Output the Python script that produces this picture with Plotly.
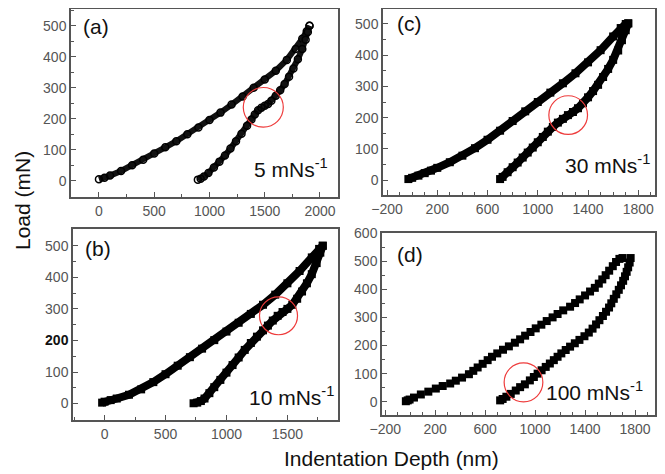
import plotly.graph_objects as go

# ---------------- data (depth nm, load mN) ----------------
# (a) 5 mN/s
a_load_depth = [0, 50, 100, 200, 300, 400, 500, 600, 700, 800, 900, 1000, 1100, 1200, 1300,
                1400, 1500, 1600, 1700, 1780, 1840, 1880, 1905]
a_load_force = [5, 10, 17, 32, 50, 68, 88, 108, 128, 150, 172, 196, 220, 246, 272,
                300, 327, 355, 390, 425, 458, 482, 500]
a_unl_depth = [1905, 1890, 1870, 1840, 1800, 1760, 1720, 1680, 1640, 1600, 1560, 1530, 1500, 1470,
               1440, 1410, 1380, 1340, 1290, 1240, 1190, 1140, 1090, 1040, 990, 950, 920, 895]
a_unl_force = [500, 480, 455, 425, 392, 362, 336, 312, 292, 274, 258, 248, 242, 236,
               228, 214, 198, 178, 152, 128, 104, 82, 62, 43, 25, 14, 7, 4]

# (c) 30 mN/s
c_load_depth = [-30, 0, 50, 100, 150, 200, 300, 400, 500, 600, 700, 800, 900, 1000, 1100, 1200,
                1300, 1400, 1500, 1600, 1660, 1700, 1720]
c_load_force = [3, 7, 14, 22, 30, 39, 57, 78, 102, 129, 158, 189, 220, 250, 280, 310,
                342, 377, 416, 460, 487, 500, 502]
c_unl_depth = [1720, 1700, 1670, 1640, 1600, 1560, 1520, 1480, 1440, 1400, 1360, 1320, 1280, 1240,
               1200, 1160, 1120, 1080, 1040, 1000, 960, 920, 880, 840, 800, 760, 720, 700]
c_unl_force = [502, 480, 448, 415, 385, 356, 330, 305, 285, 265, 246, 230, 218, 208,
               196, 184, 170, 155, 138, 121, 104, 88, 72, 56, 41, 25, 10, 3]

# (b) 10 mN/s
b_load_depth = [-20, 0, 50, 100, 200, 300, 400, 500, 600, 700, 800, 900, 1000, 1100, 1200,
                1300, 1400, 1500, 1600, 1700, 1760, 1790]
b_load_force = [3, 6, 11, 16, 28, 45, 68, 93, 120, 147, 174, 201, 228, 256, 284,
                313, 345, 381, 420, 463, 490, 500]
b_unl_depth = [1790, 1770, 1740, 1700, 1660, 1620, 1580, 1540, 1500, 1460, 1420, 1380, 1340, 1300,
               1250, 1200, 1150, 1100, 1050, 1000, 950, 900, 860, 820, 790, 760, 730]
b_unl_force = [500, 478, 445, 410, 381, 355, 332, 313, 300, 290, 278, 263, 247, 232,
               212, 192, 170, 146, 122, 98, 75, 52, 33, 16, 8, 3, 1]

# (d) 100 mN/s
d_load_depth = [-35, -20, -5, 30, 85, 145, 205, 260, 320, 365, 415, 470, 505, 540, 580, 620, 655,
                697, 743, 790, 838, 880, 920, 963, 1005, 1050, 1093, 1140, 1180, 1225, 1280, 1320,
                1357, 1400, 1440, 1478, 1510, 1538, 1565, 1593, 1622, 1648, 1675, 1700]
d_load_force = [2, 5, 8, 15, 26, 36, 47, 56, 65, 75, 86, 98, 110, 122, 135, 148, 160,
                172, 185, 197, 210, 222, 235, 248, 261, 274, 287, 300, 312, 325, 338, 351,
                364, 378, 392, 405, 420, 435, 450, 466, 482, 497, 508, 511]
d_unl_depth = [1765, 1757, 1745, 1733, 1720, 1705, 1688, 1670, 1650, 1630, 1610, 1592, 1568, 1543,
               1515, 1488, 1460, 1430, 1395, 1355, 1318, 1280, 1245, 1210, 1180, 1150, 1118, 1085,
               1052, 1020, 990, 958, 918, 880, 845, 805, 770, 740, 720]
d_unl_force = [511, 495, 478, 462, 446, 430, 414, 398, 382, 366, 350, 335, 320, 305,
               290, 275, 260, 246, 233, 220, 208, 196, 184, 172, 160, 148, 136, 124,
               112, 100, 88, 76, 62, 52, 40, 28, 18, 10, 5]

# red circles marking the pop-in events: (centre depth, centre load, half-width, half-height)
circles = {
    "a": (1487, 237, 181, 64),
    "c": (1242, 208, 154, 62),
    "b": (1427, 278, 156, 60),
    "d": (907, 69, 155, 69),
}
rate_labels = {"a": "5 mNs<sup>-1</sup>", "c": "30 mNs<sup>-1</sup>",
               "b": "10 mNs<sup>-1</sup>", "d": "100 mNs<sup>-1</sup>"}

FONT = "Liberation Sans, Arial, sans-serif"
AX_COL = "#555555"
TICK_COL = "#555555"

fig = go.Figure()

ax = {"a": "", "c": "2", "b": "3", "d": "4"}

def add_curve(p, xs, ys, style):
    xa = "x" + ax[p]
    ya = "y" + ax[p]
    if style == "open":
        fig.add_trace(go.Scatter(x=xs, y=ys, xaxis=xa, yaxis=ya, mode="lines+markers",
                                 line=dict(color="#111111", width=6),
                                 marker=dict(symbol="circle-open", size=7, color="#000000",
                                             line=dict(width=1.5)),
                                 showlegend=False, hoverinfo="skip"))
    elif style == "band":
        fig.add_trace(go.Scatter(x=xs, y=ys, xaxis=xa, yaxis=ya, mode="lines+markers",
                                 line=dict(color="#000000", width=8),
                                 marker=dict(symbol="square", size=8, color="#000000"),
                                 showlegend=False, hoverinfo="skip"))
    else:
        fig.add_trace(go.Scatter(x=xs, y=ys, xaxis=xa, yaxis=ya, mode="markers",
                                 marker=dict(symbol="square", size=8, color="#000000"),
                                 showlegend=False, hoverinfo="skip"))

add_curve("a", a_load_depth, a_load_force, "open")
add_curve("a", a_unl_depth, a_unl_force, "open")
add_curve("c", c_load_depth, c_load_force, "band")
add_curve("c", c_unl_depth, c_unl_force, "band")
add_curve("b", b_load_depth, b_load_force, "band")
add_curve("b", b_unl_depth, b_unl_force, "band")
add_curve("d", d_load_depth, d_load_force, "sq")
add_curve("d", d_unl_depth, d_unl_force, "sq")

# the page adds an 8px body margin, so the figure is 8px smaller and all
# screen positions are shifted by 8px
OFF = 8
W, H = 665 - OFF, 474 - OFF
def dom_x(l, r):
    return [(l - OFF) / W, (r - OFF) / W]
def dom_y(t, b):
    return [1 - (b - OFF) / H, 1 - (t - OFF) / H]

def xaxis(domain, rng, tick0, dtick, minor, anchor):
    return dict(domain=domain, range=rng, anchor=anchor, showgrid=False, zeroline=False,
                automargin=False,
                showline=True, linecolor=AX_COL, linewidth=1.5, mirror=True,
                ticks="inside", ticklen=5, tickwidth=1, tickcolor=AX_COL,
                tickfont=dict(family=FONT, size=14, color=TICK_COL),
                tick0=tick0, dtick=dtick,
                minor=dict(dtick=minor, tick0=tick0, ticks="inside", ticklen=3, tickcolor=AX_COL))

def yaxis(domain, rng, anchor, ticktext=None, tickvals=None):
    d = dict(domain=domain, range=rng, anchor=anchor, showgrid=False, zeroline=False,
             automargin=False,
             showline=True, linecolor=AX_COL, linewidth=1.5, mirror=True,
             ticks="inside", ticklen=5, tickwidth=1, tickcolor=AX_COL,
             tickfont=dict(family=FONT, size=14, color=TICK_COL),
             tick0=0, dtick=100,
             minor=dict(dtick=50, tick0=0, ticks="inside", ticklen=3, tickcolor=AX_COL))
    if ticktext is not None:
        d.update(tickmode="array", tickvals=tickvals, ticktext=ticktext)
    return d

b_yticks = [0, 100, 200, 300, 400, 500]
b_yticktext = ["0", "100", "<b><span style='color:#111111'>200</span></b>", "300", "400", "500"]

fig.update_layout(
    template="none",
    width=W, height=H, margin=dict(l=0, r=0, t=0, b=0, pad=0),
    paper_bgcolor="white", plot_bgcolor="white",
    xaxis=xaxis(dom_x(71, 338), [-253, 2163], 0, 500, 250, "y"),
    yaxis=yaxis(dom_y(9, 197), [-52, 554], "x"),
    xaxis2=xaxis(dom_x(383, 655), [-232, 1933], -200, 400, 100, "y2"),
    yaxis2=yaxis(dom_y(9, 195), [-48, 548], "x2"),
    xaxis3=xaxis(dom_x(73, 338), [-259, 1915], 0, 500, 250, "y3"),
    yaxis3=yaxis(dom_y(229, 420), [-52, 553], "x3", b_yticktext, b_yticks),
    xaxis4=xaxis(dom_x(382, 655), [-226, 1960], -200, 400, 100, "y4"),
    yaxis4=yaxis(dom_y(233, 415), [-47, 600], "x4"),
)

for p, (cx, cy, rx, ry) in circles.items():
    fig.add_shape(type="circle", xref="x" + ax[p], yref="y" + ax[p],
                  x0=cx - rx, x1=cx + rx, y0=cy - ry, y1=cy + ry,
                  line=dict(color="#ee3b3b", width=1.2))

letter_pos = {"a": (-163, 499), "c": (-139, 500), "b": (-175, 492), "d": (-120, 523)}
rate_pos = {"a": (2090, 42), "c": (1909, 51), "b": (1899, 25), "d": (1880, 38)}
for p in ["a", "c", "b", "d"]:
    lx, ly = letter_pos[p]
    fig.add_annotation(x=lx, y=ly, xref="x" + ax[p], yref="y" + ax[p], text="(%s)" % p,
                       showarrow=False, xanchor="left", yanchor="middle",
                       font=dict(family=FONT, size=21, color="#111111"))
    rx_, ry_ = rate_pos[p]
    fig.add_annotation(x=rx_, y=ry_, xref="x" + ax[p], yref="y" + ax[p], text=rate_labels[p],
                       showarrow=False, xanchor="right", yanchor="middle",
                       font=dict(family=FONT, size=21, color="#111111"))

fig.add_annotation(x=(391 - OFF) / W, y=1 - (458 - OFF) / H, xref="paper", yref="paper",
                   text="Indentation Depth (nm)", showarrow=False,
                   xanchor="center", yanchor="middle",
                   font=dict(family=FONT, size=21, color="#111111"))
fig.add_annotation(x=(22 - OFF) / W, y=1 - (201 - OFF) / H, xref="paper", yref="paper",
                   text="Load (mN)", showarrow=False, textangle=-90,
                   xanchor="center", yanchor="middle",
                   font=dict(family=FONT, size=21, color="#111111"))

fig.write_html("out.html")
